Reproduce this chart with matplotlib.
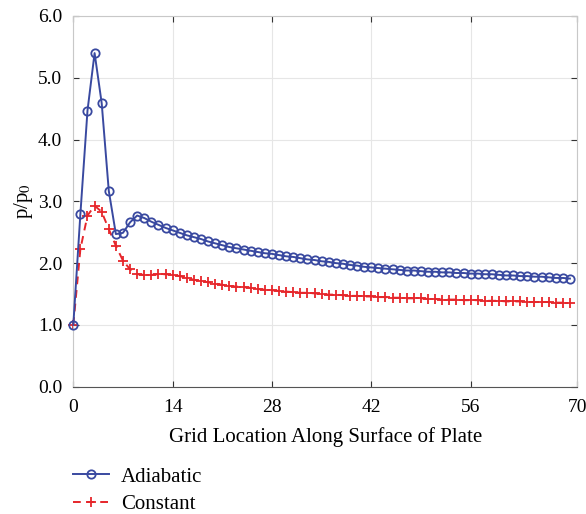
import matplotlib
matplotlib.use("agg")
import matplotlib.pyplot as plt
import numpy as np

plt.rcParams['font.family'] = ['Liberation Serif', 'DejaVu Serif']
plt.rcParams['mathtext.fontset'] = 'stix'

# grid location index along the plate
grid_x = list(range(0, 71))

# pressure ratio, adiabatic wall
adiabatic = [1.00, 2.80, 4.47, 5.40, 4.59, 3.17, 2.47, 2.49, 2.66, 2.77,
             2.73, 2.67, 2.62, 2.57, 2.53, 2.49, 2.45, 2.42, 2.39, 2.35,
             2.32, 2.29, 2.26, 2.24, 2.22, 2.20, 2.18, 2.16, 2.15, 2.13,
             2.11, 2.10, 2.08, 2.06, 2.05, 2.03, 2.02, 2.00, 1.99, 1.97,
             1.96, 1.94, 1.93, 1.92, 1.91, 1.90, 1.89, 1.88, 1.88, 1.87,
             1.86, 1.86, 1.85, 1.85, 1.84, 1.84, 1.83, 1.83, 1.82, 1.82,
             1.81, 1.80, 1.80, 1.79, 1.79, 1.78, 1.78, 1.77, 1.76, 1.76,
             1.75]

# pressure ratio, constant wall temperature
constant = [1.00, 2.23, 2.77, 2.93, 2.83, 2.55, 2.28, 2.04, 1.90, 1.82,
            1.81, 1.81, 1.82, 1.82, 1.81, 1.79, 1.76, 1.73, 1.71, 1.69,
            1.67, 1.65, 1.63, 1.62, 1.61, 1.60, 1.58, 1.57, 1.56, 1.55,
            1.54, 1.53, 1.52, 1.52, 1.51, 1.50, 1.49, 1.49, 1.48, 1.47,
            1.47, 1.46, 1.46, 1.45, 1.45, 1.44, 1.44, 1.43, 1.43, 1.43,
            1.42, 1.42, 1.41, 1.41, 1.41, 1.40, 1.40, 1.40, 1.39, 1.39,
            1.39, 1.38, 1.38, 1.38, 1.37, 1.37, 1.37, 1.37, 1.36, 1.36,
            1.36]

# last tick sits on the right edge of the box in the original
x_tick_pos = [0, 14, 28, 42, 56, 71]
x_tick_labels = ['0', '14', '28', '42', '56', '70']
y_ticks = [0.0, 1.0, 2.0, 3.0, 4.0, 5.0, 6.0]

blue = '#3949a0'
red = '#e6262b'

fig = plt.figure(figsize=(5.86, 5.14), dpi=100)
ax = fig.add_axes([0.1251, 0.2477, 0.8596, 0.7212])

ax.plot(grid_x, adiabatic, color=blue, lw=1.4, marker='o', ms=6,
        mfc='none', mec=blue, mew=1.3, label='Adiabatic', zorder=3,
        clip_on=False)
ax.plot(grid_x, constant, color=red, lw=1.4, ls=(0, (4, 3)), marker='+',
        ms=7, mec=red, mew=1.3, label='Constant', zorder=2, clip_on=False)

ax.set_xlim(0, 71)
ax.set_ylim(0, 6)
ax.set_xticks(x_tick_pos)
ax.set_xticklabels(x_tick_labels)
ax.set_yticks(y_ticks)
ax.set_yticklabels(['%.1f' % v for v in y_ticks])
ax.tick_params(direction='in', length=4, labelsize=14, color='#333333',
               top=True, right=True)
ax.tick_params(axis='x', pad=9)
ax.tick_params(axis='y', pad=8)
ax.grid(True, color='#e6e6e6', lw=0.8)
ax.set_axisbelow(True)
for s in ax.spines.values():
    s.set_color('#c8c8c8')
    s.set_linewidth(0.8)
ax.spines['bottom'].set_color('#555555')

ax.set_xlabel('Grid Location Along Surface of Plate', fontsize=15, labelpad=8)
ax.set_ylabel(r'p/p$_0$', fontsize=15, labelpad=2)

fig.legend(loc='upper left', bbox_to_anchor=(0.093, 0.128), frameon=False,
           fontsize=15, handlelength=1.7, handletextpad=0.6,
           labelspacing=0.4)

fig.savefig('out.png', dpi=100)
